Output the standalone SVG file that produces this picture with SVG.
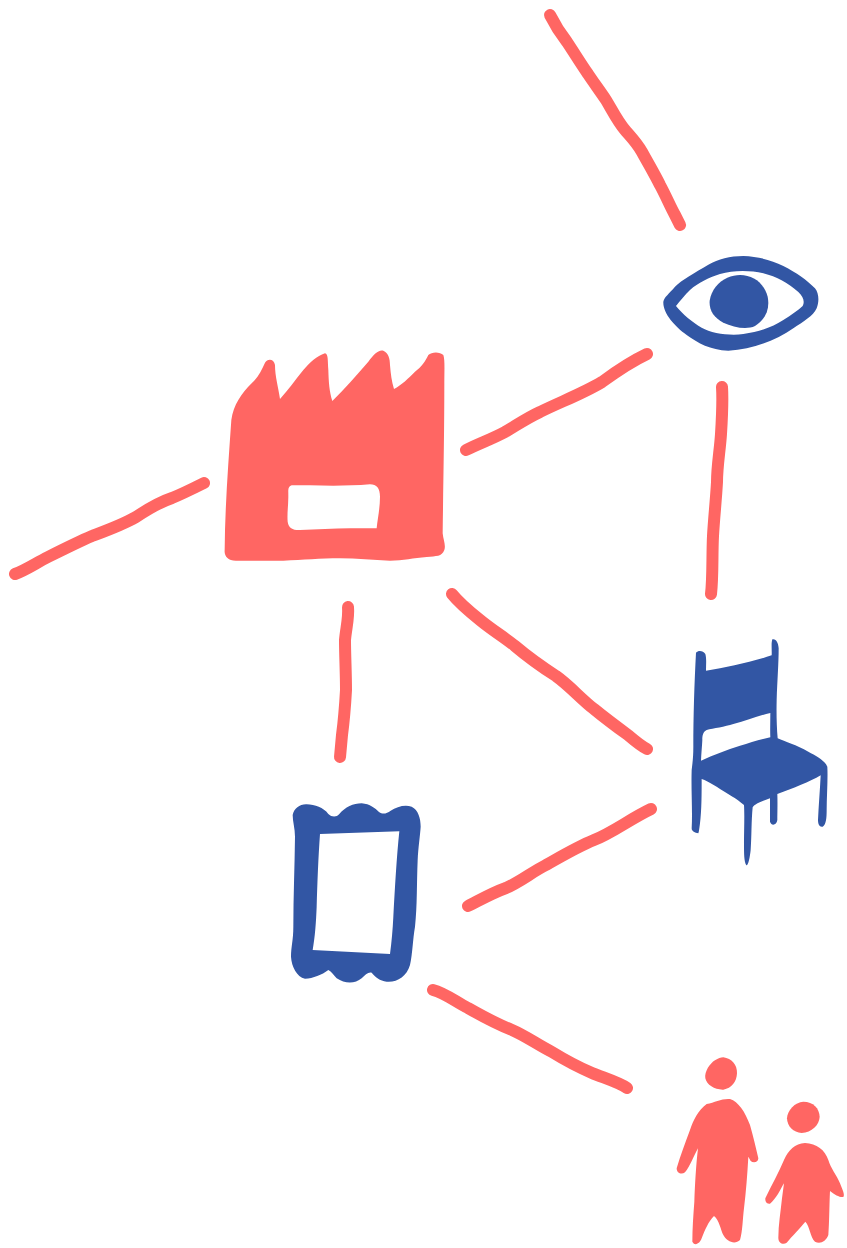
<svg xmlns="http://www.w3.org/2000/svg" width="847" height="1248" viewBox="0 0 847 1248">
<style>
.c{fill:none;stroke:#ff6663;stroke-width:12;stroke-linecap:round;stroke-linejoin:round}
.r{fill:#ff6663;fill-rule:evenodd}
.b{fill:#3256a4;fill-rule:evenodd}
</style>
<rect width="847" height="1248" fill="#fff"/>
<g id="connectors">
<path class="c" d="M550 15C555 25 560 33 567 42C575 54 581 64 588 74C594 83 600 91 606 100C612 110 618 122 625 130C631 137 637 143 642 152C648 163 654 173 660 185C666 196 670 206 675 215L680 225"/>
<path class="c" d="M466 450C478 444 492 439 505 432C517 425 527 418 540 412C560 402 582 394 602 382C617 371 630 362 647 354"/>
<path class="c" d="M15 574C26 570 36 563 48 557C62 550 78 542 92 536C108 530 122 525 136 517C148 509 160 502 172 498C182 494 194 488 204 483"/>
<path class="c" d="M348 607C349 618 346 628 345 640C345 655 346 673 346 690C345 708 344 720 342 735L340 757"/>
<path class="c" d="M452 594C460 604 470 612 480 620C492 630 504 637 515 646C528 657 542 667 556 676C570 686 581 699 594 709C605 718 617 727 628 735C635 741 641 746 647 749"/>
<path class="c" d="M722 387C723 402 722 418 721 434C720 450 717 466 717 482C716 500 714 518 713 536C712 556 713 577 711 594"/>
<path class="c" d="M468 906C480 900 492 893 506 888C520 882 532 872 546 865C562 856 577 847 594 840C612 833 630 819 651 809"/>
<path class="c" d="M433 990C445 993 456 1002 468 1008C482 1016 497 1024 512 1030C526 1036 538 1045 552 1052C565 1060 578 1067 592 1073C604 1078 618 1082 627 1088"/>
</g>
<g id="eye" class="b" transform="translate(640 230) scale(.33333)">
<path d="M70 215C72 202 88 190 105 170C125 150 165 128 205 104C235 88 270 78 310 78C355 80 395 90 430 108C470 128 500 150 525 175C537 190 538 215 530 235C520 258 490 275 460 295C410 330 340 358 265 362C210 360 175 340 140 315C105 290 68 250 70 215ZM108 228C130 255 155 275 185 293C215 310 270 318 310 312C360 305 400 290 430 270C455 254 475 240 488 228C495 215 490 200 475 186C445 160 410 140 370 130C330 120 280 120 240 132C205 143 175 158 150 180C135 195 120 212 108 228Z"/>
<path d="M300 135C340 135 372 160 383 200C390 235 378 268 345 288C320 300 280 292 250 278C220 262 207 240 209 212C214 180 235 155 262 143C275 138 288 135 300 135Z"/>
</g>
<g id="factory" class="r" transform="translate(210 340) scale(.33333)">
<path d="M64 240C70 195 95 160 125 130C145 112 155 90 165 68C172 55 192 55 195 75C195 110 205 140 210 177C235 150 255 120 280 90C300 68 320 48 345 40C355 42 353 60 355 90C356 125 358 155 367 183C405 145 440 105 475 65C490 45 505 28 520 32C535 38 540 55 540 75C542 100 545 125 552 147C575 135 595 115 615 95C635 80 645 65 655 45C665 35 690 35 700 45C705 60 703 90 703 130C703 280 700 420 698 580C700 600 708 615 703 630C695 650 680 648 650 651C610 654 580 662 540 662C490 660 440 655 390 655C330 655 280 660 220 662C170 663 120 662 80 662C55 663 42 650 44 630C45 500 55 370 64 240ZM245 436C233 440 235 450 235 470C235 495 231 520 233 545C236 565 250 571 270 570C320 569 370 565 420 565H500C503 535 510 505 510 470C510 445 500 433 480 433C420 438 360 438 300 436C280 436 262 435 245 436Z"/>
</g>
<g id="chair" class="b" transform="translate(670 630) scale(.33333)">
<path d="M78 68C85 60 100 62 106 72C110 85 108 105 108 122C170 112 240 98 305 76C306 60 303 40 307 28C318 25 325 38 326 55C326 100 322 150 320 210C319 250 320 290 323 325C345 335 380 345 415 365C440 378 465 392 472 410C474 450 470 500 470 540C470 565 468 585 458 590C448 592 444 582 444 570C446 525 450 480 452 436C420 455 370 475 322 492C323 520 322 550 322 570C320 585 305 590 300 575C300 555 300 530 300 505C280 512 255 520 248 532C244 570 245 620 242 660C240 680 235 708 229 706C222 695 222 670 222 640C222 600 224 555 222 525C200 505 170 490 140 470C120 458 105 450 95 447C95 490 95 540 90 580C88 595 87 605 85 610C75 608 65 605 65 595C68 540 63 480 65 420C68 395 70 380 70 350C70 260 73 160 78 68ZM93 392C130 375 170 360 210 347C240 338 270 328 301 322C300 300 301 275 301 249C265 257 230 272 190 282C165 290 130 295 110 300C100 305 97 315 97 330C96 350 94 370 93 392Z"/>
</g>
<g id="frame" class="b" transform="translate(280 790) scale(.33333)">
<path d="M38 75C42 55 60 42 80 43C105 44 130 52 145 72C155 82 170 82 178 72C195 52 220 40 245 40C270 42 285 55 297 66C310 75 320 70 332 62C350 50 375 43 395 50C415 60 422 85 422 110C420 140 415 170 413 210C410 280 412 350 405 410C398 450 398 490 390 525C380 560 350 578 320 575C300 573 285 560 275 548C265 545 255 555 245 565C225 582 195 582 170 565C160 555 155 545 145 540C125 555 100 565 75 566C50 560 35 530 33 500C33 470 40 450 40 410C40 320 44 230 45 140C45 115 38 95 38 75ZM120 132L358 124C350 200 345 290 340 380C338 420 335 455 330 492L98 480C105 440 108 400 110 350C112 280 115 200 120 132Z"/>
</g>
<g id="people" class="r" transform="translate(660 1045) scale(.33333)">
<path d="M190 37C215 40 232 60 231 85C230 110 215 130 190 134C165 135 140 120 136 100C133 80 150 55 165 46C175 40 182 37 190 37Z"/>
<path d="M140 177C165 172 185 160 210 162C235 170 255 200 270 240C280 275 288 310 295 340C295 352 280 355 272 348L265 335C262 390 258 440 252 490C248 520 248 560 240 585C225 600 200 590 190 570C182 555 178 525 162 513C145 530 135 555 125 580C120 595 105 605 97 590C97 550 100 510 103 470C105 420 108 360 114 310C100 335 90 365 75 382C65 390 50 385 50 370C62 330 75 295 90 255C100 225 115 195 140 177Z"/>
<path d="M430 170C460 170 478 190 479 215C478 240 455 262 425 264C400 262 382 245 381 220C382 195 405 172 430 170Z"/>
<path d="M435 294C470 295 495 315 505 345C512 370 530 390 540 415C548 435 555 450 550 456C540 458 525 450 510 438C508 480 508 530 505 570C498 590 480 598 465 590C450 575 450 545 436 530C420 550 395 575 380 593C370 600 355 595 355 578C355 540 362 500 366 460C368 445 370 430 372 415C360 435 350 460 330 476C320 478 315 470 316 460C335 420 355 385 372 345C385 315 405 296 435 294Z"/>
</g>
</svg>
